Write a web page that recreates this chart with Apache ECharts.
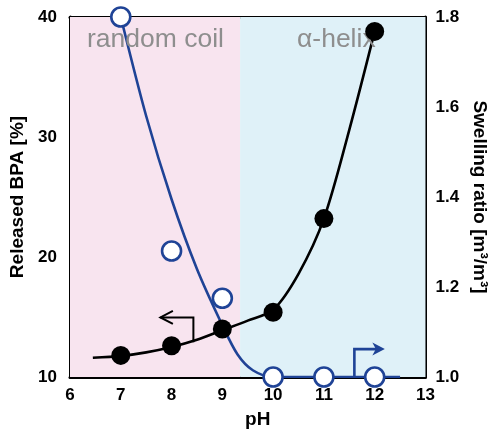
<!DOCTYPE html>
<html><head><meta charset="utf-8">
<script src="https://cdn.jsdelivr.net/npm/echarts@6/dist/echarts.min.js"></script>
<style>html,body{margin:0;padding:0;background:#fff}#c{width:497px;height:434px}</style>
</head><body><div id="c"></div>
<script>
const xTicks = [6, 7, 8, 9, 10, 11, 12, 13];
const leftTicks = [10, 20, 30, 40];
const rightTicks = [1.0, 1.2, 1.4, 1.6, 1.8];
const releasedPH = [7, 8, 9, 10, 11, 12];
const releasedBPA = [11.8, 12.6, 14.0, 15.4, 23.2, 38.8];
const swellingPH = [7, 8, 9, 10, 11, 12];
const swellingRatio = [1.8, 1.28, 1.175, 1.0, 1.0, 1.0];
const bpaCurvePH = [6.45, 7, 7.5, 8, 8.5, 9, 9.5, 10, 10.5, 11, 11.5, 12];
const bpaCurve = [11.6, 11.75, 12.05, 12.5, 13.1, 13.9, 14.7, 15.6, 18.6, 23.2, 30.6, 38.8];
const swellCurvePH = [7, 7.5, 8, 8.5, 9, 9.3, 9.6, 10, 12.5];
const swellCurve = [1.8, 1.58, 1.395, 1.24, 1.115, 1.05, 1.015, 1.0, 1.0];
const regionBoundary = 9.35;
const regionNames = ['random coil', 'α-helix'];
const blackArrowPath = [[8.43, 12.9], [8.43, 14.96], [7.78, 14.96]];
const blueArrowPath = [[11.6, 1.0], [11.6, 1.062], [12.2, 1.062]];

const FONT = '"Liberation Sans", Arial, sans-serif';
const BLUE = '#1f4396';
const zip = (a, b) => a.map((v, i) => [v, b[i]]);

function arrowSeries(path, yIdx, color, width, headType) {
  return {
    type: 'custom', xAxisIndex: 0, yAxisIndex: yIdx, z: 6, silent: true,
    data: [path[0]],
    renderItem: function (params, api) {
      const pts = path.map(p => api.coord(p));
      const n = pts.length;
      const tip = pts[n - 1], prev = pts[n - 2];
      const ang = Math.atan2(tip[1] - prev[1], tip[0] - prev[0]);
      const L = 12.5, W = 6.5;
      const back = [tip[0] - L * Math.cos(ang), tip[1] - L * Math.sin(ang)];
      const nx = -Math.sin(ang), ny = Math.cos(ang);
      const a1 = [back[0] + W * nx, back[1] + W * ny];
      const a2 = [back[0] - W * nx, back[1] - W * ny];
      const children = [{
        type: 'polyline', shape: { points: headType === 'open' ? pts : pts.slice(0, n - 1).concat([[tip[0] - 6 * Math.cos(ang), tip[1] - 6 * Math.sin(ang)]]) },
        style: { stroke: color, lineWidth: width, fill: null }
      }];
      if (headType === 'open') {
        children.push({ type: 'polyline', shape: { points: [a1, tip, a2] }, style: { stroke: color, lineWidth: width, fill: null } });
      } else {
        const notch = [tip[0] - 9 * Math.cos(ang), tip[1] - 9 * Math.sin(ang)];
        children.push({ type: 'polygon', shape: { points: [tip, a1, notch, a2] }, style: { fill: color } });
      }
      return { type: 'group', children: children };
    }
  };
}

const chart = echarts.init(document.getElementById('c'), null, { renderer: 'canvas' });
const axisCommon = {
  axisLine: { show: true, onZero: false, lineStyle: { color: '#000', width: 3 } },
  axisTick: { show: true, inside: true, length: 7, lineStyle: { color: '#000', width: 2 } },
  axisLabel: { color: '#000', fontSize: 17, fontWeight: 'bold', fontFamily: FONT },
  splitLine: { show: false },
  nameTextStyle: { color: '#000', fontSize: 19, fontWeight: 'bold', fontFamily: FONT },
  nameLocation: 'middle'
};
chart.setOption({
  animation: false,
  grid: { left: 70, right: 66, top: 17, bottom: 56, containLabel: false },
  xAxis: [
    Object.assign({}, axisCommon, {
      type: 'value', position: 'bottom', min: xTicks[0], max: xTicks[xTicks.length - 1], interval: 1,
      axisLabel: Object.assign({}, axisCommon.axisLabel, { margin: 10 }),
      name: 'pH', nameGap: 33,
      nameTextStyle: Object.assign({}, axisCommon.nameTextStyle, { padding: [0, 0, 0, 20] })
    }),
    Object.assign({}, axisCommon, {
      type: 'value', position: 'top', min: xTicks[0], max: xTicks[xTicks.length - 1], interval: 1,
      axisTick: { show: false }, axisLabel: { show: false }
    })
  ],
  yAxis: [
    Object.assign({}, axisCommon, {
      type: 'value', position: 'left', min: leftTicks[0], max: leftTicks[leftTicks.length - 1], interval: 10,
      axisLabel: Object.assign({}, axisCommon.axisLabel, { margin: 13 }),
      name: 'Released BPA [%]', nameRotate: 90, nameGap: 33
    }),
    Object.assign({}, axisCommon, {
      type: 'value', position: 'right', min: rightTicks[0], max: rightTicks[rightTicks.length - 1], interval: 0.2,
      axisLabel: Object.assign({}, axisCommon.axisLabel, { margin: 10, formatter: v => v.toFixed(1) }),
      name: 'Swelling ratio [m³/m³]', nameRotate: -90, nameGap: 41
    })
  ],
  series: [
    {
      type: 'line', xAxisIndex: 0, yAxisIndex: 0, data: [], z: 0, silent: true,
      markArea: {
        silent: true,
        data: [
          [{ xAxis: xTicks[0], itemStyle: { color: '#f8e4ef' } }, { xAxis: regionBoundary }],
          [{ xAxis: regionBoundary, itemStyle: { color: '#dff1f8' } }, { xAxis: xTicks[xTicks.length - 1] }]
        ]
      }
    },
    {
      type: 'line', xAxisIndex: 0, yAxisIndex: 0, data: zip(bpaCurvePH, bpaCurve),
      smooth: 0.3, showSymbol: false, symbol: 'none', z: 3,
      lineStyle: { color: '#000', width: 2.6 }
    },
    {
      type: 'line', xAxisIndex: 0, yAxisIndex: 1, data: zip(swellCurvePH, swellCurve),
      smooth: 0.3, showSymbol: false, symbol: 'none', z: 3,
      lineStyle: { color: BLUE, width: 2.6 }
    },
    arrowSeries(blackArrowPath, 0, '#000', 2, 'open'),
    arrowSeries(blueArrowPath, 1, BLUE, 2.6, 'filled'),
    {
      type: 'scatter', xAxisIndex: 0, yAxisIndex: 0, data: zip(releasedPH, releasedBPA),
      symbol: 'circle', symbolSize: 19, z: 8, itemStyle: { color: '#000', opacity: 1 }
    },
    {
      type: 'scatter', xAxisIndex: 0, yAxisIndex: 1, data: zip(swellingPH, swellingRatio),
      symbol: 'circle', symbolSize: 19, z: 8,
      itemStyle: { color: '#fff', borderColor: BLUE, borderWidth: 2.6, opacity: 1 }
    }
  ],
  graphic: [
    { type: 'text', left: 87, top: 26, z: 5, silent: true,
      style: { text: regionNames[0], fill: '#8e8e8e', font: '26.5px ' + FONT } },
    { type: 'text', left: 297, top: 26, z: 5, silent: true,
      style: { text: regionNames[1], fill: '#8e8e8e', font: '26.5px ' + FONT } }
  ]
});
</script></body></html>
